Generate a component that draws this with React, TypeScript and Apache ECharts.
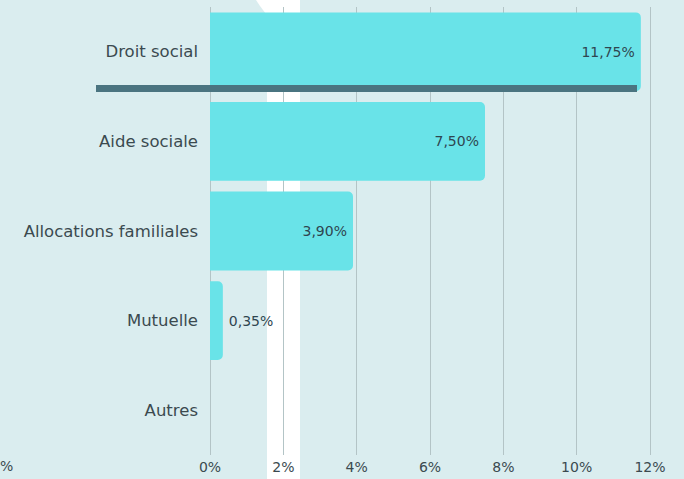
import React, { useEffect, useRef } from "react";
import * as echarts from "echarts";

const categories = ["Droit social", "Aide sociale", "Allocations familiales", "Mutuelle", "Autres"];
const values = [11.75, 7.5, 3.9, 0.35, 0];
const labelPositions = ["insideRight", "insideRight", "insideRight", "right", "right"];

const fmt = (v: number) => v.toFixed(2).replace(".", ",") + "%";

export default function App() {
  const ref = useRef<HTMLDivElement>(null);
  useEffect(() => {
    if (!ref.current) return;
    const chart = echarts.init(ref.current, null, { renderer: "svg" });
    const textColor = "#3b4a4f";
    const font = "DejaVu Sans";
    chart.setOption({
      animation: false,
      backgroundColor: "#daedef",
      textStyle: { fontFamily: font },
      graphic: [
        {
          type: "rect",
          z: -10,
          silent: true,
          shape: { x: 267, y: 0, width: 33, height: 479 },
          style: { fill: "#ffffff" },
        },
        {
          type: "polygon",
          z: -10,
          silent: true,
          shape: { points: [[256, 0], [300, 0], [300, 14], [266, 14], [260, 6]] },
          style: { fill: "#ffffff" },
        },
        {
          type: "rect",
          z: 100,
          silent: true,
          shape: { x: 96, y: 85, width: 541, height: 7 },
          style: { fill: "#4a7480" },
        },
        {
          type: "text",
          left: 0,
          top: 459,
          style: { text: "%", fill: textColor, font: "14px 'DejaVu Sans'" },
        },
      ],
      grid: { left: 210, right: 34, top: 7, bottom: 24, containLabel: false },
      xAxis: {
        type: "value",
        min: 0,
        max: 12,
        interval: 2,
        axisLine: { show: false },
        axisTick: { show: false },
        splitLine: { show: true, lineStyle: { color: "#b3c4c6", width: 1 } },
        axisLabel: {
          color: textColor,
          fontSize: 14,
          margin: 5,
          formatter: (v: number) => v + "%",
        },
      },
      yAxis: {
        type: "category",
        inverse: true,
        data: categories,
        axisLine: { show: false },
        axisTick: { show: false },
        axisLabel: { color: textColor, fontSize: 16.5, margin: 12 },
      },
      series: [
        {
          type: "bar",
          barCategoryGap: "12%",
          data: values.map((v, i) => ({
            value: v,
            label: {
              show: v > 0,
              position: labelPositions[i],
              distance: 6,
            },
          })),
          itemStyle: { color: "#69e3e8", borderRadius: [0, 5, 5, 0] },
          label: {
            color: "#2f4650",
            fontSize: 14,
            formatter: (p: any) => fmt(p.value),
          },
        },
      ],
    });
    return () => chart.dispose();
  }, []);
  return (
    <div
      ref={ref}
      style={{ position: "fixed", left: 0, top: 0, width: 684, height: 479 }}
    />
  );
}
